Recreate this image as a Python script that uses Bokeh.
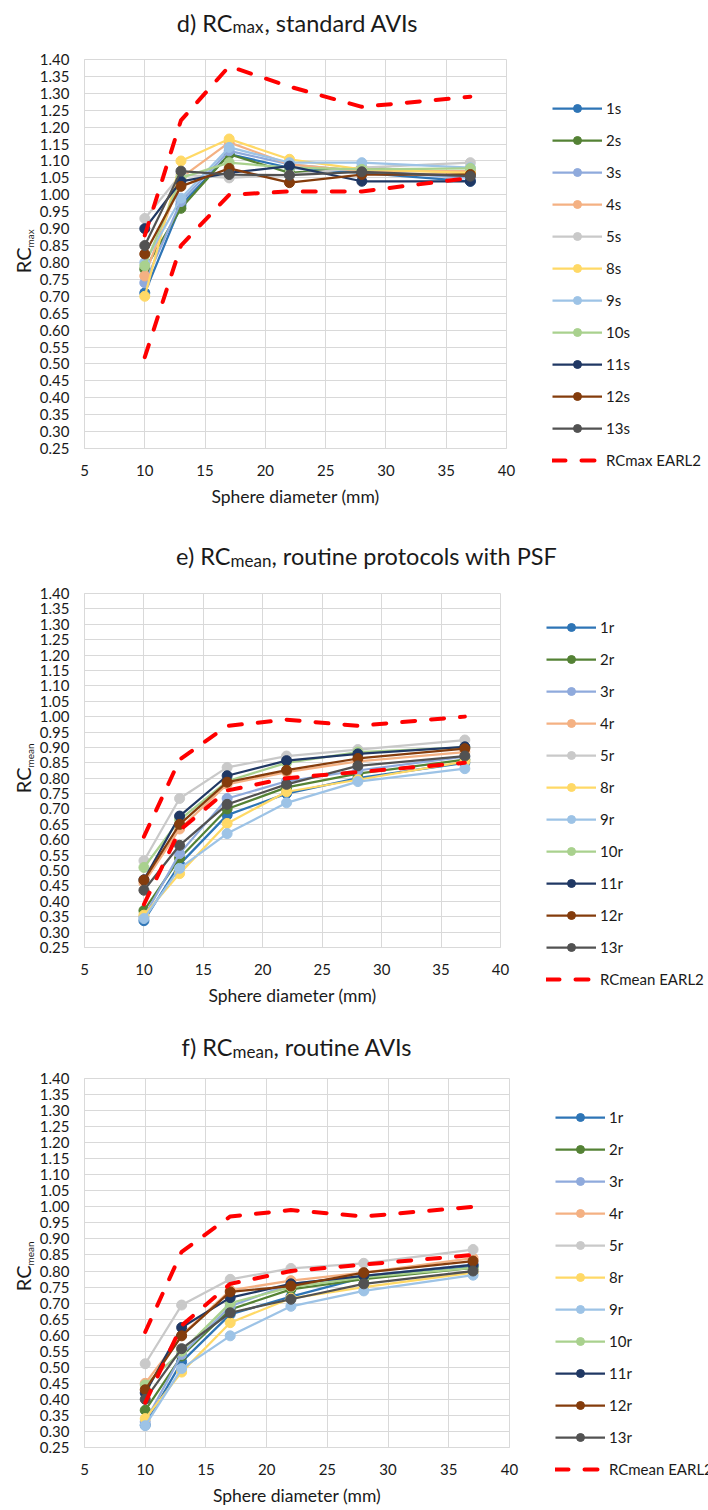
import math
from bokeh.plotting import figure
from bokeh.models import (Range1d, FixedTicker, Legend, LegendItem,
                          PrintfTickFormatter)
from bokeh.core.properties import value
from bokeh.layouts import column, row
from bokeh.embed import file_html
from bokeh.resources import INLINE

# ---------------- data ----------------
sizes = [10, 13, 17, 22, 28, 37]
x_ticks = [5, 10, 15, 20, 25, 30, 35, 40]
y_ticks = [round(0.25 + 0.05 * i, 2) for i in range(24)]

series_ids = ["1", "2", "3", "4", "5", "8", "9", "10", "11", "12", "13"]
series_colors = ["#2E75B6", "#548235", "#8FAADC", "#F4B183", "#C9C9C9", "#FFD966",
                 "#9DC3E6", "#A9D18E", "#203864", "#843C0C", "#525252"]

# d) RCmax, standard AVIs
d_1 = [0.71, 0.97, 1.12, 1.08, 1.065, 1.04]
d_2 = [0.78, 0.96, 1.12, 1.065, 1.08, 1.065]
d_3 = [0.74, 0.98, 1.13, 1.09, 1.07, 1.05]
d_4 = [0.76, 1.05, 1.155, 1.09, 1.07, 1.07]
d_5 = [0.93, 1.06, 1.05, 1.06, 1.08, 1.095]
d_8 = [0.70, 1.10, 1.165, 1.105, 1.075, 1.065]
d_9 = [0.80, 0.99, 1.14, 1.095, 1.095, 1.08]
d_10 = [0.79, 1.05, 1.095, 1.08, 1.075, 1.078]
d_11 = [0.90, 1.04, 1.065, 1.085, 1.04, 1.04]
d_12 = [0.825, 1.025, 1.078, 1.036, 1.06, 1.06]
d_13 = [0.85, 1.07, 1.06, 1.058, 1.068, 1.055]
d_earl_upper = [0.88, 1.22, 1.38, 1.32, 1.26, 1.29]
d_earl_lower = [0.52, 0.85, 1.00, 1.01, 1.01, 1.05]

# e) RCmean, routine protocols with PSF
e_1 = [0.337, 0.52, 0.68, 0.75, 0.80, 0.85]
e_2 = [0.37, 0.54, 0.70, 0.77, 0.815, 0.86]
e_3 = [0.35, 0.555, 0.734, 0.79, 0.825, 0.87]
e_4 = [0.46, 0.635, 0.78, 0.82, 0.855, 0.885]
e_5 = [0.532, 0.734, 0.835, 0.872, 0.893, 0.924]
e_8 = [0.355, 0.49, 0.653, 0.756, 0.795, 0.854]
e_9 = [0.344, 0.507, 0.62, 0.72, 0.789, 0.831]
e_10 = [0.51, 0.665, 0.79, 0.85, 0.885, 0.90]
e_11 = [0.47, 0.677, 0.808, 0.857, 0.879, 0.902]
e_12 = [0.469, 0.65, 0.787, 0.826, 0.864, 0.896]
e_13 = [0.436, 0.582, 0.715, 0.78, 0.84, 0.872]
mean_earl_upper = [0.61, 0.86, 0.97, 0.99, 0.97, 1.00]
mean_earl_lower = [0.39, 0.63, 0.76, 0.80, 0.82, 0.85]

# f) RCmean, routine AVIs
f_1 = [0.32, 0.517, 0.665, 0.72, 0.78, 0.815]
f_2 = [0.366, 0.535, 0.68, 0.743, 0.775, 0.81]
f_3 = [0.33, 0.54, 0.69, 0.76, 0.785, 0.82]
f_4 = [0.45, 0.60, 0.74, 0.77, 0.795, 0.84]
f_5 = [0.511, 0.694, 0.774, 0.808, 0.824, 0.867]
f_8 = [0.34, 0.485, 0.639, 0.715, 0.75, 0.795]
f_9 = [0.318, 0.496, 0.598, 0.69, 0.738, 0.787]
f_10 = [0.445, 0.55, 0.70, 0.75, 0.78, 0.81]
f_11 = [0.42, 0.624, 0.717, 0.76, 0.785, 0.819]
f_12 = [0.43, 0.598, 0.735, 0.753, 0.795, 0.831]
f_13 = [0.40, 0.558, 0.67, 0.712, 0.76, 0.80]

FONT = "Lato"
TXT = "#1a1a1a"
GRID = "#D9D9D9"
RED = "#FF0000"
EARL_DASH = "13 16"
TOP_B = 12      # room above the frame for the half of the "1.40" label
RIGHT_B = 10    # room right of the frame for the half of the "40" label
YLAB_W = 36


def blank(width, height, top=0, bottom=0, xr=None):
    f = figure(width=width, height=height,
               x_range=xr if xr is not None else Range1d(0, width),
               y_range=Range1d(height - top - bottom, 0),
               x_axis_type=None, y_axis_type=None,
               output_backend="svg", toolbar_location=None, title=None,
               min_border_left=0, min_border_right=0,
               min_border_top=top, min_border_bottom=bottom,
               outline_line_color=None,
               background_fill_color="white", border_fill_color="white")
    return f


def put_text(f, x, y, txt, size, align, angle=0.0):
    f.text(x=[x], y=[y], text=[txt], text_font=value(FONT),
           text_font_size=value(size), text_color=TXT,
           text_align=value(align), text_baseline=value("alphabetic"),
           angle=angle)


def make_panel(series, suffix, earl_upper, earl_lower, earl_label,
               head_h, row_h, bottom, main_left, main_w, legend_w,
               title_parts, title_pos, ylab_parts, ylab_y, legend_pos):
    # ---- header with title (RC + subscript), full width ----
    head = blank(708, head_h)
    t_main, t_sub, t_rest = title_parts
    (tx, ty, sy, rx) = title_pos
    put_text(head, tx, ty, t_main, "23.5px", "right")
    put_text(head, tx, sy, t_sub, "17px", "left")
    put_text(head, rx, ty, t_rest, "23.5px", "left")

    # ---- y axis title (rotated, with subscript), frame = main frame rows ----
    yl = blank(YLAB_W, row_h, top=TOP_B, bottom=bottom)
    y_main, y_sub = ylab_parts
    put_text(yl, 22.5, ylab_y, y_main, "20px", "right", math.pi / 2)
    put_text(yl, 29, ylab_y, y_sub, "10px", "left", math.pi / 2)

    # ---- main chart ----
    p = figure(width=main_w, height=row_h, x_range=Range1d(5, 40),
               y_range=Range1d(0.25, 1.40), output_backend="svg",
               toolbar_location=None, title=None,
               min_border_left=main_left, min_border_right=RIGHT_B,
               min_border_top=TOP_B, min_border_bottom=bottom,
               background_fill_color="white",
               border_fill_color="white", outline_line_color=GRID)
    p.xaxis.ticker = FixedTicker(ticks=x_ticks)
    p.yaxis.ticker = FixedTicker(ticks=y_ticks)
    p.yaxis.formatter = PrintfTickFormatter(format="%.2f")
    for ax in (p.xaxis, p.yaxis):
        ax.major_tick_out = 0
        ax.major_tick_in = 0
        ax.minor_tick_out = 0
        ax.minor_tick_in = 0
        ax.axis_line_color = GRID
        ax.major_label_text_font = FONT
        ax.major_label_text_font_size = "15px"
        ax.major_label_text_color = TXT
    p.yaxis.major_label_standoff = 15
    p.xaxis.major_label_standoff = 16
    p.xaxis.axis_label = "Sphere diameter (mm)"
    p.xaxis.axis_label_text_font = FONT
    p.xaxis.axis_label_text_font_size = "17.5px"
    p.xaxis.axis_label_text_font_style = "normal"
    p.xaxis.axis_label_text_color = TXT
    p.xaxis.axis_label_standoff = 7
    p.xgrid.grid_line_color = GRID
    p.ygrid.grid_line_color = GRID

    for col, vals in zip(series_colors, series):
        p.line(sizes, vals, line_color=col, line_width=2.25)
        p.scatter(sizes, vals, size=10, fill_color=col, line_color=col)
    for vals in (earl_upper, earl_lower):
        p.line(sizes, vals, line_color=RED, line_width=4,
               line_dash=EARL_DASH, line_cap="round")

    # ---- legend panel: same series, drawn outside its visible x range ----
    lg = blank(legend_w, row_h, xr=Range1d(-1000, -1000 + legend_w))
    items = []
    for sid, col, vals in zip(series_ids, series_colors, series):
        lr = lg.line(sizes, vals, line_color=col, line_width=2.25)
        sr = lg.scatter(sizes, vals, size=10, fill_color=col, line_color=col)
        items.append(LegendItem(label=sid + suffix, renderers=[lr, sr]))
    er = lg.line(sizes, earl_upper, line_color=RED, line_width=4,
                 line_dash=EARL_DASH, line_cap="round")
    items.append(LegendItem(label=earl_label, renderers=[er]))
    legend = Legend(items=items, location=legend_pos, orientation="vertical",
                    glyph_width=50, glyph_height=20, label_height=20,
                    spacing=12, padding=0, margin=0, border_line_alpha=0,
                    background_fill_alpha=0, label_text_font=FONT,
                    label_text_font_size="15px", label_text_color=TXT,
                    label_standoff=4)
    lg.add_layout(legend)

    body = row(row(yl, p, spacing=0), lg, spacing=0)
    return column(head, body, spacing=0)


panel_d = make_panel([d_1, d_2, d_3, d_4, d_5, d_8, d_9, d_10, d_11, d_12, d_13], "s",
                     d_earl_upper, d_earl_lower, "RCmax EARL2",
                     head_h=47, row_h=473, bottom=72,
                     main_left=46, main_w=480, legend_w=192,
                     title_parts=("d) RC", "max", ", standard AVIs"),
                     title_pos=(232, 22, 26, 264),
                     ylab_parts=("RC", "max"), ylab_y=188,
                     legend_pos=(36, 50))

panel_e = make_panel([e_1, e_2, e_3, e_4, e_5, e_8, e_9, e_10, e_11, e_12, e_13], "r",
                     mean_earl_upper, mean_earl_lower, "RCmean EARL2",
                     head_h=61, row_h=439, bottom=73,
                     main_left=48, main_w=474, legend_w=198,
                     title_parts=("e) RC", "mean", ", routine protocols with PSF"),
                     title_pos=(230, 35, 40, 271),
                     ylab_parts=("RC", "mean"), ylab_y=174,
                     legend_pos=(36, 31))

panel_f = make_panel([f_1, f_2, f_3, f_4, f_5, f_8, f_9, f_10, f_11, f_12, f_13], "r",
                     mean_earl_upper, mean_earl_lower, "RCmean EARL2",
                     head_h=46, row_h=444, bottom=63,
                     main_left=48, main_w=483, legend_w=189,
                     title_parts=("f) RC", "mean", ", routine AVIs"),
                     title_pos=(232, 26, 31, 273),
                     ylab_parts=("RC", "mean"), ylab_y=187,
                     legend_pos=(36, 31))

layout = column(panel_d, panel_e, panel_f, spacing=0)
open("out.html", "w").write(file_html(layout, INLINE))
